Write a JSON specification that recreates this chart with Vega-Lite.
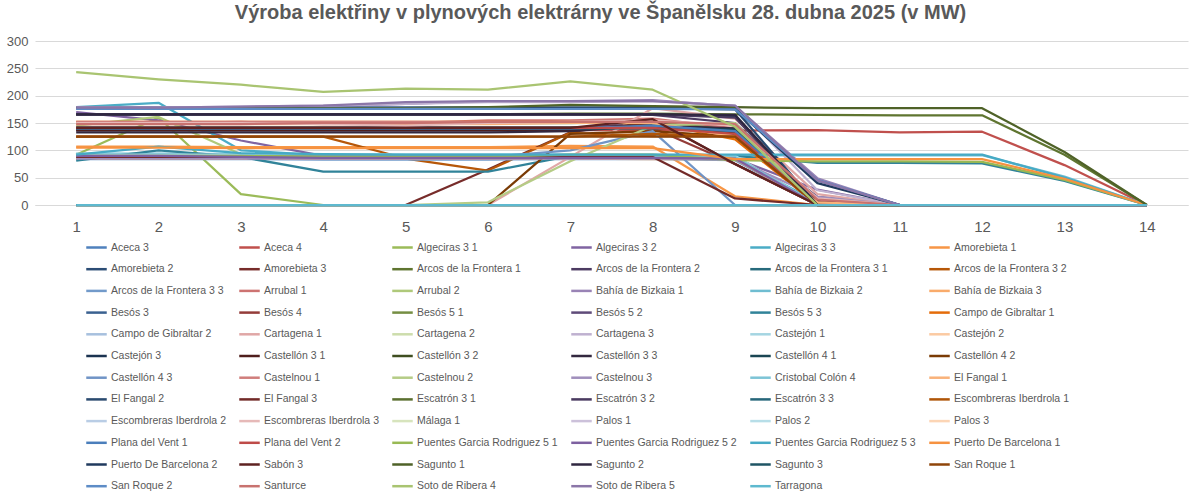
{
  "$schema": "https://vega.github.io/schema/vega-lite/v6.json",
  "description": "Výroba elektřiny v plynových elektrárnách ve Španělsku 28. dubna 2025",
  "autosize": {"type": "none"},
  "width": 1153,
  "height": 164,
  "padding": {"left": 35, "top": 41, "right": 12, "bottom": 290},
  "background": "white",
  "title": {
    "text": "Výroba elektřiny v plynových elektrárny ve Španělsku 28. dubna 2025 (v MW)",
    "font": "Liberation Sans",
    "fontSize": 20,
    "fontWeight": "bold",
    "color": "#595959",
    "anchor": "middle",
    "dx": -11,
    "offset": 12
  },
  "data": {
    "values": [
      {"s":"Aceca 3","x":1,"v":88},{"s":"Aceca 3","x":2,"v":88},{"s":"Aceca 3","x":3,"v":87},{"s":"Aceca 3","x":4,"v":86},{"s":"Aceca 3","x":5,"v":86},{"s":"Aceca 3","x":6,"v":86},{"s":"Aceca 3","x":7,"v":87},{"s":"Aceca 3","x":8,"v":87},{"s":"Aceca 3","x":9,"v":84},{"s":"Aceca 3","x":10,"v":0},{"s":"Aceca 3","x":11,"v":0},{"s":"Aceca 3","x":12,"v":0},{"s":"Aceca 3","x":13,"v":0},{"s":"Aceca 3","x":14,"v":0},
      {"s":"Aceca 4","x":1,"v":137},{"s":"Aceca 4","x":2,"v":137},{"s":"Aceca 4","x":3,"v":137},{"s":"Aceca 4","x":4,"v":137},{"s":"Aceca 4","x":5,"v":137},{"s":"Aceca 4","x":6,"v":137},{"s":"Aceca 4","x":7,"v":137},{"s":"Aceca 4","x":8,"v":137},{"s":"Aceca 4","x":9,"v":136},{"s":"Aceca 4","x":10,"v":137},{"s":"Aceca 4","x":11,"v":133},{"s":"Aceca 4","x":12,"v":134},{"s":"Aceca 4","x":13,"v":73},{"s":"Aceca 4","x":14,"v":0},
      {"s":"Algeciras 3 1","x":1,"v":92},{"s":"Algeciras 3 1","x":2,"v":160},{"s":"Algeciras 3 1","x":3,"v":20},{"s":"Algeciras 3 1","x":4,"v":0},{"s":"Algeciras 3 1","x":5,"v":0},{"s":"Algeciras 3 1","x":6,"v":0},{"s":"Algeciras 3 1","x":7,"v":0},{"s":"Algeciras 3 1","x":8,"v":0},{"s":"Algeciras 3 1","x":9,"v":0},{"s":"Algeciras 3 1","x":10,"v":0},{"s":"Algeciras 3 1","x":11,"v":0},{"s":"Algeciras 3 1","x":12,"v":0},{"s":"Algeciras 3 1","x":13,"v":0},{"s":"Algeciras 3 1","x":14,"v":0},
      {"s":"Algeciras 3 2","x":1,"v":170},{"s":"Algeciras 3 2","x":2,"v":155},{"s":"Algeciras 3 2","x":3,"v":118},{"s":"Algeciras 3 2","x":4,"v":90},{"s":"Algeciras 3 2","x":5,"v":88},{"s":"Algeciras 3 2","x":6,"v":88},{"s":"Algeciras 3 2","x":7,"v":88},{"s":"Algeciras 3 2","x":8,"v":88},{"s":"Algeciras 3 2","x":9,"v":85},{"s":"Algeciras 3 2","x":10,"v":28},{"s":"Algeciras 3 2","x":11,"v":0},{"s":"Algeciras 3 2","x":12,"v":0},{"s":"Algeciras 3 2","x":13,"v":0},{"s":"Algeciras 3 2","x":14,"v":0},
      {"s":"Algeciras 3 3","x":1,"v":179},{"s":"Algeciras 3 3","x":2,"v":187},{"s":"Algeciras 3 3","x":3,"v":100},{"s":"Algeciras 3 3","x":4,"v":91},{"s":"Algeciras 3 3","x":5,"v":90},{"s":"Algeciras 3 3","x":6,"v":90},{"s":"Algeciras 3 3","x":7,"v":90},{"s":"Algeciras 3 3","x":8,"v":90},{"s":"Algeciras 3 3","x":9,"v":85},{"s":"Algeciras 3 3","x":10,"v":5},{"s":"Algeciras 3 3","x":11,"v":0},{"s":"Algeciras 3 3","x":12,"v":0},{"s":"Algeciras 3 3","x":13,"v":0},{"s":"Algeciras 3 3","x":14,"v":0},
      {"s":"Amorebieta 1","x":1,"v":107},{"s":"Amorebieta 1","x":2,"v":107},{"s":"Amorebieta 1","x":3,"v":106},{"s":"Amorebieta 1","x":4,"v":106},{"s":"Amorebieta 1","x":5,"v":106},{"s":"Amorebieta 1","x":6,"v":106},{"s":"Amorebieta 1","x":7,"v":108},{"s":"Amorebieta 1","x":8,"v":107},{"s":"Amorebieta 1","x":9,"v":16},{"s":"Amorebieta 1","x":10,"v":0},{"s":"Amorebieta 1","x":11,"v":0},{"s":"Amorebieta 1","x":12,"v":0},{"s":"Amorebieta 1","x":13,"v":0},{"s":"Amorebieta 1","x":14,"v":0},
      {"s":"Amorebieta 2","x":1,"v":178},{"s":"Amorebieta 2","x":2,"v":178},{"s":"Amorebieta 2","x":3,"v":178},{"s":"Amorebieta 2","x":4,"v":178},{"s":"Amorebieta 2","x":5,"v":178},{"s":"Amorebieta 2","x":6,"v":178},{"s":"Amorebieta 2","x":7,"v":178},{"s":"Amorebieta 2","x":8,"v":178},{"s":"Amorebieta 2","x":9,"v":178},{"s":"Amorebieta 2","x":10,"v":46},{"s":"Amorebieta 2","x":11,"v":0},{"s":"Amorebieta 2","x":12,"v":0},{"s":"Amorebieta 2","x":13,"v":0},{"s":"Amorebieta 2","x":14,"v":0},
      {"s":"Amorebieta 3","x":1,"v":0},{"s":"Amorebieta 3","x":2,"v":0},{"s":"Amorebieta 3","x":3,"v":0},{"s":"Amorebieta 3","x":4,"v":0},{"s":"Amorebieta 3","x":5,"v":0},{"s":"Amorebieta 3","x":6,"v":65},{"s":"Amorebieta 3","x":7,"v":133},{"s":"Amorebieta 3","x":8,"v":157},{"s":"Amorebieta 3","x":9,"v":75},{"s":"Amorebieta 3","x":10,"v":0},{"s":"Amorebieta 3","x":11,"v":0},{"s":"Amorebieta 3","x":12,"v":0},{"s":"Amorebieta 3","x":13,"v":0},{"s":"Amorebieta 3","x":14,"v":0},
      {"s":"Arcos de la Frontera 1","x":1,"v":166},{"s":"Arcos de la Frontera 1","x":2,"v":166},{"s":"Arcos de la Frontera 1","x":3,"v":166},{"s":"Arcos de la Frontera 1","x":4,"v":166},{"s":"Arcos de la Frontera 1","x":5,"v":166},{"s":"Arcos de la Frontera 1","x":6,"v":166},{"s":"Arcos de la Frontera 1","x":7,"v":167},{"s":"Arcos de la Frontera 1","x":8,"v":167},{"s":"Arcos de la Frontera 1","x":9,"v":166},{"s":"Arcos de la Frontera 1","x":10,"v":165},{"s":"Arcos de la Frontera 1","x":11,"v":164},{"s":"Arcos de la Frontera 1","x":12,"v":164},{"s":"Arcos de la Frontera 1","x":13,"v":92},{"s":"Arcos de la Frontera 1","x":14,"v":0},
      {"s":"Arcos de la Frontera 2","x":1,"v":166},{"s":"Arcos de la Frontera 2","x":2,"v":166},{"s":"Arcos de la Frontera 2","x":3,"v":166},{"s":"Arcos de la Frontera 2","x":4,"v":166},{"s":"Arcos de la Frontera 2","x":5,"v":166},{"s":"Arcos de la Frontera 2","x":6,"v":166},{"s":"Arcos de la Frontera 2","x":7,"v":166},{"s":"Arcos de la Frontera 2","x":8,"v":165},{"s":"Arcos de la Frontera 2","x":9,"v":150},{"s":"Arcos de la Frontera 2","x":10,"v":8},{"s":"Arcos de la Frontera 2","x":11,"v":0},{"s":"Arcos de la Frontera 2","x":12,"v":0},{"s":"Arcos de la Frontera 2","x":13,"v":0},{"s":"Arcos de la Frontera 2","x":14,"v":0},
      {"s":"Arcos de la Frontera 3 1","x":1,"v":140},{"s":"Arcos de la Frontera 3 1","x":2,"v":140},{"s":"Arcos de la Frontera 3 1","x":3,"v":140},{"s":"Arcos de la Frontera 3 1","x":4,"v":140},{"s":"Arcos de la Frontera 3 1","x":5,"v":140},{"s":"Arcos de la Frontera 3 1","x":6,"v":140},{"s":"Arcos de la Frontera 3 1","x":7,"v":141},{"s":"Arcos de la Frontera 3 1","x":8,"v":148},{"s":"Arcos de la Frontera 3 1","x":9,"v":140},{"s":"Arcos de la Frontera 3 1","x":10,"v":0},{"s":"Arcos de la Frontera 3 1","x":11,"v":0},{"s":"Arcos de la Frontera 3 1","x":12,"v":0},{"s":"Arcos de la Frontera 3 1","x":13,"v":0},{"s":"Arcos de la Frontera 3 1","x":14,"v":0},
      {"s":"Arcos de la Frontera 3 2","x":1,"v":125},{"s":"Arcos de la Frontera 3 2","x":2,"v":125},{"s":"Arcos de la Frontera 3 2","x":3,"v":125},{"s":"Arcos de la Frontera 3 2","x":4,"v":125},{"s":"Arcos de la Frontera 3 2","x":5,"v":85},{"s":"Arcos de la Frontera 3 2","x":6,"v":63},{"s":"Arcos de la Frontera 3 2","x":7,"v":132},{"s":"Arcos de la Frontera 3 2","x":8,"v":126},{"s":"Arcos de la Frontera 3 2","x":9,"v":126},{"s":"Arcos de la Frontera 3 2","x":10,"v":0},{"s":"Arcos de la Frontera 3 2","x":11,"v":0},{"s":"Arcos de la Frontera 3 2","x":12,"v":0},{"s":"Arcos de la Frontera 3 2","x":13,"v":0},{"s":"Arcos de la Frontera 3 2","x":14,"v":0},
      {"s":"Arcos de la Frontera 3 3","x":1,"v":84},{"s":"Arcos de la Frontera 3 3","x":2,"v":84},{"s":"Arcos de la Frontera 3 3","x":3,"v":84},{"s":"Arcos de la Frontera 3 3","x":4,"v":83},{"s":"Arcos de la Frontera 3 3","x":5,"v":83},{"s":"Arcos de la Frontera 3 3","x":6,"v":83},{"s":"Arcos de la Frontera 3 3","x":7,"v":84},{"s":"Arcos de la Frontera 3 3","x":8,"v":84},{"s":"Arcos de la Frontera 3 3","x":9,"v":82},{"s":"Arcos de la Frontera 3 3","x":10,"v":0},{"s":"Arcos de la Frontera 3 3","x":11,"v":0},{"s":"Arcos de la Frontera 3 3","x":12,"v":0},{"s":"Arcos de la Frontera 3 3","x":13,"v":0},{"s":"Arcos de la Frontera 3 3","x":14,"v":0},
      {"s":"Arrubal 1","x":1,"v":148},{"s":"Arrubal 1","x":2,"v":150},{"s":"Arrubal 1","x":3,"v":152},{"s":"Arrubal 1","x":4,"v":148},{"s":"Arrubal 1","x":5,"v":150},{"s":"Arrubal 1","x":6,"v":155},{"s":"Arrubal 1","x":7,"v":155},{"s":"Arrubal 1","x":8,"v":158},{"s":"Arrubal 1","x":9,"v":140},{"s":"Arrubal 1","x":10,"v":10},{"s":"Arrubal 1","x":11,"v":0},{"s":"Arrubal 1","x":12,"v":0},{"s":"Arrubal 1","x":13,"v":0},{"s":"Arrubal 1","x":14,"v":0},
      {"s":"Arrubal 2","x":1,"v":145},{"s":"Arrubal 2","x":2,"v":161},{"s":"Arrubal 2","x":3,"v":93},{"s":"Arrubal 2","x":4,"v":88},{"s":"Arrubal 2","x":5,"v":87},{"s":"Arrubal 2","x":6,"v":87},{"s":"Arrubal 2","x":7,"v":88},{"s":"Arrubal 2","x":8,"v":88},{"s":"Arrubal 2","x":9,"v":86},{"s":"Arrubal 2","x":10,"v":0},{"s":"Arrubal 2","x":11,"v":0},{"s":"Arrubal 2","x":12,"v":0},{"s":"Arrubal 2","x":13,"v":0},{"s":"Arrubal 2","x":14,"v":0},
      {"s":"Bahía de Bizkaia 1","x":1,"v":179},{"s":"Bahía de Bizkaia 1","x":2,"v":179},{"s":"Bahía de Bizkaia 1","x":3,"v":179},{"s":"Bahía de Bizkaia 1","x":4,"v":180},{"s":"Bahía de Bizkaia 1","x":5,"v":185},{"s":"Bahía de Bizkaia 1","x":6,"v":190},{"s":"Bahía de Bizkaia 1","x":7,"v":190},{"s":"Bahía de Bizkaia 1","x":8,"v":192},{"s":"Bahía de Bizkaia 1","x":9,"v":181},{"s":"Bahía de Bizkaia 1","x":10,"v":49},{"s":"Bahía de Bizkaia 1","x":11,"v":0},{"s":"Bahía de Bizkaia 1","x":12,"v":0},{"s":"Bahía de Bizkaia 1","x":13,"v":0},{"s":"Bahía de Bizkaia 1","x":14,"v":0},
      {"s":"Bahía de Bizkaia 2","x":1,"v":94},{"s":"Bahía de Bizkaia 2","x":2,"v":94},{"s":"Bahía de Bizkaia 2","x":3,"v":93},{"s":"Bahía de Bizkaia 2","x":4,"v":92},{"s":"Bahía de Bizkaia 2","x":5,"v":92},{"s":"Bahía de Bizkaia 2","x":6,"v":92},{"s":"Bahía de Bizkaia 2","x":7,"v":92},{"s":"Bahía de Bizkaia 2","x":8,"v":91},{"s":"Bahía de Bizkaia 2","x":9,"v":91},{"s":"Bahía de Bizkaia 2","x":10,"v":91},{"s":"Bahía de Bizkaia 2","x":11,"v":91},{"s":"Bahía de Bizkaia 2","x":12,"v":91},{"s":"Bahía de Bizkaia 2","x":13,"v":52},{"s":"Bahía de Bizkaia 2","x":14,"v":0},
      {"s":"Bahía de Bizkaia 3","x":1,"v":85},{"s":"Bahía de Bizkaia 3","x":2,"v":85},{"s":"Bahía de Bizkaia 3","x":3,"v":85},{"s":"Bahía de Bizkaia 3","x":4,"v":85},{"s":"Bahía de Bizkaia 3","x":5,"v":85},{"s":"Bahía de Bizkaia 3","x":6,"v":85},{"s":"Bahía de Bizkaia 3","x":7,"v":85},{"s":"Bahía de Bizkaia 3","x":8,"v":84},{"s":"Bahía de Bizkaia 3","x":9,"v":84},{"s":"Bahía de Bizkaia 3","x":10,"v":0},{"s":"Bahía de Bizkaia 3","x":11,"v":0},{"s":"Bahía de Bizkaia 3","x":12,"v":0},{"s":"Bahía de Bizkaia 3","x":13,"v":0},{"s":"Bahía de Bizkaia 3","x":14,"v":0},
      {"s":"Besós 3","x":1,"v":178},{"s":"Besós 3","x":2,"v":178},{"s":"Besós 3","x":3,"v":178},{"s":"Besós 3","x":4,"v":178},{"s":"Besós 3","x":5,"v":178},{"s":"Besós 3","x":6,"v":178},{"s":"Besós 3","x":7,"v":178},{"s":"Besós 3","x":8,"v":178},{"s":"Besós 3","x":9,"v":176},{"s":"Besós 3","x":10,"v":45},{"s":"Besós 3","x":11,"v":0},{"s":"Besós 3","x":12,"v":0},{"s":"Besós 3","x":13,"v":0},{"s":"Besós 3","x":14,"v":0},
      {"s":"Besós 4","x":1,"v":141},{"s":"Besós 4","x":2,"v":141},{"s":"Besós 4","x":3,"v":141},{"s":"Besós 4","x":4,"v":141},{"s":"Besós 4","x":5,"v":141},{"s":"Besós 4","x":6,"v":141},{"s":"Besós 4","x":7,"v":141},{"s":"Besós 4","x":8,"v":141},{"s":"Besós 4","x":9,"v":75},{"s":"Besós 4","x":10,"v":0},{"s":"Besós 4","x":11,"v":0},{"s":"Besós 4","x":12,"v":0},{"s":"Besós 4","x":13,"v":0},{"s":"Besós 4","x":14,"v":0},
      {"s":"Besós 5 1","x":1,"v":150},{"s":"Besós 5 1","x":2,"v":150},{"s":"Besós 5 1","x":3,"v":150},{"s":"Besós 5 1","x":4,"v":150},{"s":"Besós 5 1","x":5,"v":150},{"s":"Besós 5 1","x":6,"v":150},{"s":"Besós 5 1","x":7,"v":150},{"s":"Besós 5 1","x":8,"v":152},{"s":"Besós 5 1","x":9,"v":137},{"s":"Besós 5 1","x":10,"v":3},{"s":"Besós 5 1","x":11,"v":0},{"s":"Besós 5 1","x":12,"v":0},{"s":"Besós 5 1","x":13,"v":0},{"s":"Besós 5 1","x":14,"v":0},
      {"s":"Besós 5 2","x":1,"v":137},{"s":"Besós 5 2","x":2,"v":137},{"s":"Besós 5 2","x":3,"v":137},{"s":"Besós 5 2","x":4,"v":137},{"s":"Besós 5 2","x":5,"v":137},{"s":"Besós 5 2","x":6,"v":137},{"s":"Besós 5 2","x":7,"v":140},{"s":"Besós 5 2","x":8,"v":150},{"s":"Besós 5 2","x":9,"v":132},{"s":"Besós 5 2","x":10,"v":15},{"s":"Besós 5 2","x":11,"v":0},{"s":"Besós 5 2","x":12,"v":0},{"s":"Besós 5 2","x":13,"v":0},{"s":"Besós 5 2","x":14,"v":0},
      {"s":"Besós 5 3","x":1,"v":81},{"s":"Besós 5 3","x":2,"v":100},{"s":"Besós 5 3","x":3,"v":88},{"s":"Besós 5 3","x":4,"v":61},{"s":"Besós 5 3","x":5,"v":61},{"s":"Besós 5 3","x":6,"v":61},{"s":"Besós 5 3","x":7,"v":90},{"s":"Besós 5 3","x":8,"v":90},{"s":"Besós 5 3","x":9,"v":90},{"s":"Besós 5 3","x":10,"v":77},{"s":"Besós 5 3","x":11,"v":77},{"s":"Besós 5 3","x":12,"v":76},{"s":"Besós 5 3","x":13,"v":44},{"s":"Besós 5 3","x":14,"v":0},
      {"s":"Campo de Gibraltar 1","x":1,"v":152},{"s":"Campo de Gibraltar 1","x":2,"v":152},{"s":"Campo de Gibraltar 1","x":3,"v":152},{"s":"Campo de Gibraltar 1","x":4,"v":152},{"s":"Campo de Gibraltar 1","x":5,"v":152},{"s":"Campo de Gibraltar 1","x":6,"v":152},{"s":"Campo de Gibraltar 1","x":7,"v":152},{"s":"Campo de Gibraltar 1","x":8,"v":150},{"s":"Campo de Gibraltar 1","x":9,"v":120},{"s":"Campo de Gibraltar 1","x":10,"v":0},{"s":"Campo de Gibraltar 1","x":11,"v":0},{"s":"Campo de Gibraltar 1","x":12,"v":0},{"s":"Campo de Gibraltar 1","x":13,"v":0},{"s":"Campo de Gibraltar 1","x":14,"v":0},
      {"s":"Campo de Gibraltar 2","x":1,"v":90},{"s":"Campo de Gibraltar 2","x":2,"v":90},{"s":"Campo de Gibraltar 2","x":3,"v":89},{"s":"Campo de Gibraltar 2","x":4,"v":89},{"s":"Campo de Gibraltar 2","x":5,"v":89},{"s":"Campo de Gibraltar 2","x":6,"v":89},{"s":"Campo de Gibraltar 2","x":7,"v":89},{"s":"Campo de Gibraltar 2","x":8,"v":89},{"s":"Campo de Gibraltar 2","x":9,"v":88},{"s":"Campo de Gibraltar 2","x":10,"v":0},{"s":"Campo de Gibraltar 2","x":11,"v":0},{"s":"Campo de Gibraltar 2","x":12,"v":0},{"s":"Campo de Gibraltar 2","x":13,"v":0},{"s":"Campo de Gibraltar 2","x":14,"v":0},
      {"s":"Cartagena 1","x":1,"v":0},{"s":"Cartagena 1","x":2,"v":0},{"s":"Cartagena 1","x":3,"v":0},{"s":"Cartagena 1","x":4,"v":0},{"s":"Cartagena 1","x":5,"v":0},{"s":"Cartagena 1","x":6,"v":0},{"s":"Cartagena 1","x":7,"v":88},{"s":"Cartagena 1","x":8,"v":177},{"s":"Cartagena 1","x":9,"v":158},{"s":"Cartagena 1","x":10,"v":20},{"s":"Cartagena 1","x":11,"v":0},{"s":"Cartagena 1","x":12,"v":0},{"s":"Cartagena 1","x":13,"v":0},{"s":"Cartagena 1","x":14,"v":0},
      {"s":"Cartagena 2","x":1,"v":0},{"s":"Cartagena 2","x":2,"v":0},{"s":"Cartagena 2","x":3,"v":0},{"s":"Cartagena 2","x":4,"v":0},{"s":"Cartagena 2","x":5,"v":0},{"s":"Cartagena 2","x":6,"v":0},{"s":"Cartagena 2","x":7,"v":0},{"s":"Cartagena 2","x":8,"v":0},{"s":"Cartagena 2","x":9,"v":0},{"s":"Cartagena 2","x":10,"v":0},{"s":"Cartagena 2","x":11,"v":0},{"s":"Cartagena 2","x":12,"v":0},{"s":"Cartagena 2","x":13,"v":0},{"s":"Cartagena 2","x":14,"v":0},
      {"s":"Cartagena 3","x":1,"v":178},{"s":"Cartagena 3","x":2,"v":178},{"s":"Cartagena 3","x":3,"v":180},{"s":"Cartagena 3","x":4,"v":182},{"s":"Cartagena 3","x":5,"v":185},{"s":"Cartagena 3","x":6,"v":188},{"s":"Cartagena 3","x":7,"v":188},{"s":"Cartagena 3","x":8,"v":190},{"s":"Cartagena 3","x":9,"v":182},{"s":"Cartagena 3","x":10,"v":27},{"s":"Cartagena 3","x":11,"v":0},{"s":"Cartagena 3","x":12,"v":0},{"s":"Cartagena 3","x":13,"v":0},{"s":"Cartagena 3","x":14,"v":0},
      {"s":"Castejón 1","x":1,"v":92},{"s":"Castejón 1","x":2,"v":92},{"s":"Castejón 1","x":3,"v":92},{"s":"Castejón 1","x":4,"v":92},{"s":"Castejón 1","x":5,"v":92},{"s":"Castejón 1","x":6,"v":92},{"s":"Castejón 1","x":7,"v":92},{"s":"Castejón 1","x":8,"v":92},{"s":"Castejón 1","x":9,"v":90},{"s":"Castejón 1","x":10,"v":0},{"s":"Castejón 1","x":11,"v":0},{"s":"Castejón 1","x":12,"v":0},{"s":"Castejón 1","x":13,"v":0},{"s":"Castejón 1","x":14,"v":0},
      {"s":"Castejón 2","x":1,"v":0},{"s":"Castejón 2","x":2,"v":0},{"s":"Castejón 2","x":3,"v":0},{"s":"Castejón 2","x":4,"v":0},{"s":"Castejón 2","x":5,"v":0},{"s":"Castejón 2","x":6,"v":0},{"s":"Castejón 2","x":7,"v":0},{"s":"Castejón 2","x":8,"v":0},{"s":"Castejón 2","x":9,"v":0},{"s":"Castejón 2","x":10,"v":0},{"s":"Castejón 2","x":11,"v":0},{"s":"Castejón 2","x":12,"v":0},{"s":"Castejón 2","x":13,"v":0},{"s":"Castejón 2","x":14,"v":0},
      {"s":"Castejón 3","x":1,"v":166},{"s":"Castejón 3","x":2,"v":166},{"s":"Castejón 3","x":3,"v":166},{"s":"Castejón 3","x":4,"v":166},{"s":"Castejón 3","x":5,"v":166},{"s":"Castejón 3","x":6,"v":166},{"s":"Castejón 3","x":7,"v":166},{"s":"Castejón 3","x":8,"v":166},{"s":"Castejón 3","x":9,"v":162},{"s":"Castejón 3","x":10,"v":0},{"s":"Castejón 3","x":11,"v":0},{"s":"Castejón 3","x":12,"v":0},{"s":"Castejón 3","x":13,"v":0},{"s":"Castejón 3","x":14,"v":0},
      {"s":"Castellón 3 1","x":1,"v":137},{"s":"Castellón 3 1","x":2,"v":137},{"s":"Castellón 3 1","x":3,"v":137},{"s":"Castellón 3 1","x":4,"v":137},{"s":"Castellón 3 1","x":5,"v":137},{"s":"Castellón 3 1","x":6,"v":137},{"s":"Castellón 3 1","x":7,"v":137},{"s":"Castellón 3 1","x":8,"v":150},{"s":"Castellón 3 1","x":9,"v":130},{"s":"Castellón 3 1","x":10,"v":8},{"s":"Castellón 3 1","x":11,"v":0},{"s":"Castellón 3 1","x":12,"v":0},{"s":"Castellón 3 1","x":13,"v":0},{"s":"Castellón 3 1","x":14,"v":0},
      {"s":"Castellón 3 2","x":1,"v":0},{"s":"Castellón 3 2","x":2,"v":0},{"s":"Castellón 3 2","x":3,"v":0},{"s":"Castellón 3 2","x":4,"v":0},{"s":"Castellón 3 2","x":5,"v":0},{"s":"Castellón 3 2","x":6,"v":0},{"s":"Castellón 3 2","x":7,"v":0},{"s":"Castellón 3 2","x":8,"v":0},{"s":"Castellón 3 2","x":9,"v":0},{"s":"Castellón 3 2","x":10,"v":0},{"s":"Castellón 3 2","x":11,"v":0},{"s":"Castellón 3 2","x":12,"v":0},{"s":"Castellón 3 2","x":13,"v":0},{"s":"Castellón 3 2","x":14,"v":0},
      {"s":"Castellón 3 3","x":1,"v":133},{"s":"Castellón 3 3","x":2,"v":133},{"s":"Castellón 3 3","x":3,"v":133},{"s":"Castellón 3 3","x":4,"v":133},{"s":"Castellón 3 3","x":5,"v":133},{"s":"Castellón 3 3","x":6,"v":133},{"s":"Castellón 3 3","x":7,"v":135},{"s":"Castellón 3 3","x":8,"v":145},{"s":"Castellón 3 3","x":9,"v":140},{"s":"Castellón 3 3","x":10,"v":0},{"s":"Castellón 3 3","x":11,"v":0},{"s":"Castellón 3 3","x":12,"v":0},{"s":"Castellón 3 3","x":13,"v":0},{"s":"Castellón 3 3","x":14,"v":0},
      {"s":"Castellón 4 1","x":1,"v":142},{"s":"Castellón 4 1","x":2,"v":142},{"s":"Castellón 4 1","x":3,"v":142},{"s":"Castellón 4 1","x":4,"v":142},{"s":"Castellón 4 1","x":5,"v":142},{"s":"Castellón 4 1","x":6,"v":142},{"s":"Castellón 4 1","x":7,"v":142},{"s":"Castellón 4 1","x":8,"v":142},{"s":"Castellón 4 1","x":9,"v":138},{"s":"Castellón 4 1","x":10,"v":0},{"s":"Castellón 4 1","x":11,"v":0},{"s":"Castellón 4 1","x":12,"v":0},{"s":"Castellón 4 1","x":13,"v":0},{"s":"Castellón 4 1","x":14,"v":0},
      {"s":"Castellón 4 2","x":1,"v":0},{"s":"Castellón 4 2","x":2,"v":0},{"s":"Castellón 4 2","x":3,"v":0},{"s":"Castellón 4 2","x":4,"v":0},{"s":"Castellón 4 2","x":5,"v":0},{"s":"Castellón 4 2","x":6,"v":0},{"s":"Castellón 4 2","x":7,"v":130},{"s":"Castellón 4 2","x":8,"v":135},{"s":"Castellón 4 2","x":9,"v":125},{"s":"Castellón 4 2","x":10,"v":0},{"s":"Castellón 4 2","x":11,"v":0},{"s":"Castellón 4 2","x":12,"v":0},{"s":"Castellón 4 2","x":13,"v":0},{"s":"Castellón 4 2","x":14,"v":0},
      {"s":"Castellón 4 3","x":1,"v":88},{"s":"Castellón 4 3","x":2,"v":88},{"s":"Castellón 4 3","x":3,"v":88},{"s":"Castellón 4 3","x":4,"v":88},{"s":"Castellón 4 3","x":5,"v":88},{"s":"Castellón 4 3","x":6,"v":88},{"s":"Castellón 4 3","x":7,"v":100},{"s":"Castellón 4 3","x":8,"v":135},{"s":"Castellón 4 3","x":9,"v":0},{"s":"Castellón 4 3","x":10,"v":0},{"s":"Castellón 4 3","x":11,"v":0},{"s":"Castellón 4 3","x":12,"v":0},{"s":"Castellón 4 3","x":13,"v":0},{"s":"Castellón 4 3","x":14,"v":0},
      {"s":"Castelnou 1","x":1,"v":152},{"s":"Castelnou 1","x":2,"v":152},{"s":"Castelnou 1","x":3,"v":152},{"s":"Castelnou 1","x":4,"v":152},{"s":"Castelnou 1","x":5,"v":152},{"s":"Castelnou 1","x":6,"v":152},{"s":"Castelnou 1","x":7,"v":152},{"s":"Castelnou 1","x":8,"v":150},{"s":"Castelnou 1","x":9,"v":125},{"s":"Castelnou 1","x":10,"v":5},{"s":"Castelnou 1","x":11,"v":0},{"s":"Castelnou 1","x":12,"v":0},{"s":"Castelnou 1","x":13,"v":0},{"s":"Castelnou 1","x":14,"v":0},
      {"s":"Castelnou 2","x":1,"v":0},{"s":"Castelnou 2","x":2,"v":0},{"s":"Castelnou 2","x":3,"v":0},{"s":"Castelnou 2","x":4,"v":0},{"s":"Castelnou 2","x":5,"v":0},{"s":"Castelnou 2","x":6,"v":5},{"s":"Castelnou 2","x":7,"v":80},{"s":"Castelnou 2","x":8,"v":145},{"s":"Castelnou 2","x":9,"v":150},{"s":"Castelnou 2","x":10,"v":0},{"s":"Castelnou 2","x":11,"v":0},{"s":"Castelnou 2","x":12,"v":0},{"s":"Castelnou 2","x":13,"v":0},{"s":"Castelnou 2","x":14,"v":0},
      {"s":"Castelnou 3","x":1,"v":85},{"s":"Castelnou 3","x":2,"v":85},{"s":"Castelnou 3","x":3,"v":85},{"s":"Castelnou 3","x":4,"v":85},{"s":"Castelnou 3","x":5,"v":85},{"s":"Castelnou 3","x":6,"v":85},{"s":"Castelnou 3","x":7,"v":85},{"s":"Castelnou 3","x":8,"v":85},{"s":"Castelnou 3","x":9,"v":84},{"s":"Castelnou 3","x":10,"v":15},{"s":"Castelnou 3","x":11,"v":0},{"s":"Castelnou 3","x":12,"v":0},{"s":"Castelnou 3","x":13,"v":0},{"s":"Castelnou 3","x":14,"v":0},
      {"s":"Cristobal Colón 4","x":1,"v":90},{"s":"Cristobal Colón 4","x":2,"v":90},{"s":"Cristobal Colón 4","x":3,"v":90},{"s":"Cristobal Colón 4","x":4,"v":90},{"s":"Cristobal Colón 4","x":5,"v":90},{"s":"Cristobal Colón 4","x":6,"v":90},{"s":"Cristobal Colón 4","x":7,"v":90},{"s":"Cristobal Colón 4","x":8,"v":90},{"s":"Cristobal Colón 4","x":9,"v":88},{"s":"Cristobal Colón 4","x":10,"v":0},{"s":"Cristobal Colón 4","x":11,"v":0},{"s":"Cristobal Colón 4","x":12,"v":0},{"s":"Cristobal Colón 4","x":13,"v":0},{"s":"Cristobal Colón 4","x":14,"v":0},
      {"s":"El Fangal 1","x":1,"v":148},{"s":"El Fangal 1","x":2,"v":148},{"s":"El Fangal 1","x":3,"v":148},{"s":"El Fangal 1","x":4,"v":148},{"s":"El Fangal 1","x":5,"v":148},{"s":"El Fangal 1","x":6,"v":148},{"s":"El Fangal 1","x":7,"v":150},{"s":"El Fangal 1","x":8,"v":150},{"s":"El Fangal 1","x":9,"v":125},{"s":"El Fangal 1","x":10,"v":5},{"s":"El Fangal 1","x":11,"v":0},{"s":"El Fangal 1","x":12,"v":0},{"s":"El Fangal 1","x":13,"v":0},{"s":"El Fangal 1","x":14,"v":0},
      {"s":"El Fangal 2","x":1,"v":177},{"s":"El Fangal 2","x":2,"v":177},{"s":"El Fangal 2","x":3,"v":177},{"s":"El Fangal 2","x":4,"v":177},{"s":"El Fangal 2","x":5,"v":177},{"s":"El Fangal 2","x":6,"v":177},{"s":"El Fangal 2","x":7,"v":177},{"s":"El Fangal 2","x":8,"v":177},{"s":"El Fangal 2","x":9,"v":175},{"s":"El Fangal 2","x":10,"v":0},{"s":"El Fangal 2","x":11,"v":0},{"s":"El Fangal 2","x":12,"v":0},{"s":"El Fangal 2","x":13,"v":0},{"s":"El Fangal 2","x":14,"v":0},
      {"s":"El Fangal 3","x":1,"v":88},{"s":"El Fangal 3","x":2,"v":88},{"s":"El Fangal 3","x":3,"v":88},{"s":"El Fangal 3","x":4,"v":88},{"s":"El Fangal 3","x":5,"v":88},{"s":"El Fangal 3","x":6,"v":88},{"s":"El Fangal 3","x":7,"v":88},{"s":"El Fangal 3","x":8,"v":88},{"s":"El Fangal 3","x":9,"v":12},{"s":"El Fangal 3","x":10,"v":0},{"s":"El Fangal 3","x":11,"v":0},{"s":"El Fangal 3","x":12,"v":0},{"s":"El Fangal 3","x":13,"v":0},{"s":"El Fangal 3","x":14,"v":0},
      {"s":"Escatrón 3 1","x":1,"v":0},{"s":"Escatrón 3 1","x":2,"v":0},{"s":"Escatrón 3 1","x":3,"v":0},{"s":"Escatrón 3 1","x":4,"v":0},{"s":"Escatrón 3 1","x":5,"v":0},{"s":"Escatrón 3 1","x":6,"v":0},{"s":"Escatrón 3 1","x":7,"v":0},{"s":"Escatrón 3 1","x":8,"v":0},{"s":"Escatrón 3 1","x":9,"v":0},{"s":"Escatrón 3 1","x":10,"v":0},{"s":"Escatrón 3 1","x":11,"v":0},{"s":"Escatrón 3 1","x":12,"v":0},{"s":"Escatrón 3 1","x":13,"v":0},{"s":"Escatrón 3 1","x":14,"v":0},
      {"s":"Escatrón 3 2","x":1,"v":166},{"s":"Escatrón 3 2","x":2,"v":166},{"s":"Escatrón 3 2","x":3,"v":166},{"s":"Escatrón 3 2","x":4,"v":166},{"s":"Escatrón 3 2","x":5,"v":166},{"s":"Escatrón 3 2","x":6,"v":166},{"s":"Escatrón 3 2","x":7,"v":166},{"s":"Escatrón 3 2","x":8,"v":166},{"s":"Escatrón 3 2","x":9,"v":160},{"s":"Escatrón 3 2","x":10,"v":0},{"s":"Escatrón 3 2","x":11,"v":0},{"s":"Escatrón 3 2","x":12,"v":0},{"s":"Escatrón 3 2","x":13,"v":0},{"s":"Escatrón 3 2","x":14,"v":0},
      {"s":"Escatrón 3 3","x":1,"v":140},{"s":"Escatrón 3 3","x":2,"v":140},{"s":"Escatrón 3 3","x":3,"v":140},{"s":"Escatrón 3 3","x":4,"v":140},{"s":"Escatrón 3 3","x":5,"v":140},{"s":"Escatrón 3 3","x":6,"v":140},{"s":"Escatrón 3 3","x":7,"v":140},{"s":"Escatrón 3 3","x":8,"v":140},{"s":"Escatrón 3 3","x":9,"v":135},{"s":"Escatrón 3 3","x":10,"v":0},{"s":"Escatrón 3 3","x":11,"v":0},{"s":"Escatrón 3 3","x":12,"v":0},{"s":"Escatrón 3 3","x":13,"v":0},{"s":"Escatrón 3 3","x":14,"v":0},
      {"s":"Escombreras Iberdrola 1","x":1,"v":125},{"s":"Escombreras Iberdrola 1","x":2,"v":125},{"s":"Escombreras Iberdrola 1","x":3,"v":125},{"s":"Escombreras Iberdrola 1","x":4,"v":125},{"s":"Escombreras Iberdrola 1","x":5,"v":125},{"s":"Escombreras Iberdrola 1","x":6,"v":125},{"s":"Escombreras Iberdrola 1","x":7,"v":125},{"s":"Escombreras Iberdrola 1","x":8,"v":130},{"s":"Escombreras Iberdrola 1","x":9,"v":125},{"s":"Escombreras Iberdrola 1","x":10,"v":0},{"s":"Escombreras Iberdrola 1","x":11,"v":0},{"s":"Escombreras Iberdrola 1","x":12,"v":0},{"s":"Escombreras Iberdrola 1","x":13,"v":0},{"s":"Escombreras Iberdrola 1","x":14,"v":0},
      {"s":"Escombreras Iberdrola 2","x":1,"v":0},{"s":"Escombreras Iberdrola 2","x":2,"v":0},{"s":"Escombreras Iberdrola 2","x":3,"v":0},{"s":"Escombreras Iberdrola 2","x":4,"v":0},{"s":"Escombreras Iberdrola 2","x":5,"v":0},{"s":"Escombreras Iberdrola 2","x":6,"v":0},{"s":"Escombreras Iberdrola 2","x":7,"v":0},{"s":"Escombreras Iberdrola 2","x":8,"v":0},{"s":"Escombreras Iberdrola 2","x":9,"v":0},{"s":"Escombreras Iberdrola 2","x":10,"v":0},{"s":"Escombreras Iberdrola 2","x":11,"v":0},{"s":"Escombreras Iberdrola 2","x":12,"v":0},{"s":"Escombreras Iberdrola 2","x":13,"v":0},{"s":"Escombreras Iberdrola 2","x":14,"v":0},
      {"s":"Escombreras Iberdrola 3","x":1,"v":150},{"s":"Escombreras Iberdrola 3","x":2,"v":150},{"s":"Escombreras Iberdrola 3","x":3,"v":150},{"s":"Escombreras Iberdrola 3","x":4,"v":148},{"s":"Escombreras Iberdrola 3","x":5,"v":145},{"s":"Escombreras Iberdrola 3","x":6,"v":150},{"s":"Escombreras Iberdrola 3","x":7,"v":152},{"s":"Escombreras Iberdrola 3","x":8,"v":155},{"s":"Escombreras Iberdrola 3","x":9,"v":145},{"s":"Escombreras Iberdrola 3","x":10,"v":12},{"s":"Escombreras Iberdrola 3","x":11,"v":0},{"s":"Escombreras Iberdrola 3","x":12,"v":0},{"s":"Escombreras Iberdrola 3","x":13,"v":0},{"s":"Escombreras Iberdrola 3","x":14,"v":0},
      {"s":"Málaga 1","x":1,"v":0},{"s":"Málaga 1","x":2,"v":0},{"s":"Málaga 1","x":3,"v":0},{"s":"Málaga 1","x":4,"v":0},{"s":"Málaga 1","x":5,"v":0},{"s":"Málaga 1","x":6,"v":0},{"s":"Málaga 1","x":7,"v":0},{"s":"Málaga 1","x":8,"v":0},{"s":"Málaga 1","x":9,"v":0},{"s":"Málaga 1","x":10,"v":0},{"s":"Málaga 1","x":11,"v":0},{"s":"Málaga 1","x":12,"v":0},{"s":"Málaga 1","x":13,"v":0},{"s":"Málaga 1","x":14,"v":0},
      {"s":"Palos 1","x":1,"v":0},{"s":"Palos 1","x":2,"v":0},{"s":"Palos 1","x":3,"v":0},{"s":"Palos 1","x":4,"v":0},{"s":"Palos 1","x":5,"v":0},{"s":"Palos 1","x":6,"v":0},{"s":"Palos 1","x":7,"v":0},{"s":"Palos 1","x":8,"v":0},{"s":"Palos 1","x":9,"v":0},{"s":"Palos 1","x":10,"v":0},{"s":"Palos 1","x":11,"v":0},{"s":"Palos 1","x":12,"v":0},{"s":"Palos 1","x":13,"v":0},{"s":"Palos 1","x":14,"v":0},
      {"s":"Palos 2","x":1,"v":0},{"s":"Palos 2","x":2,"v":0},{"s":"Palos 2","x":3,"v":0},{"s":"Palos 2","x":4,"v":0},{"s":"Palos 2","x":5,"v":0},{"s":"Palos 2","x":6,"v":0},{"s":"Palos 2","x":7,"v":0},{"s":"Palos 2","x":8,"v":0},{"s":"Palos 2","x":9,"v":0},{"s":"Palos 2","x":10,"v":0},{"s":"Palos 2","x":11,"v":0},{"s":"Palos 2","x":12,"v":0},{"s":"Palos 2","x":13,"v":0},{"s":"Palos 2","x":14,"v":0},
      {"s":"Palos 3","x":1,"v":0},{"s":"Palos 3","x":2,"v":0},{"s":"Palos 3","x":3,"v":0},{"s":"Palos 3","x":4,"v":0},{"s":"Palos 3","x":5,"v":0},{"s":"Palos 3","x":6,"v":0},{"s":"Palos 3","x":7,"v":0},{"s":"Palos 3","x":8,"v":0},{"s":"Palos 3","x":9,"v":0},{"s":"Palos 3","x":10,"v":0},{"s":"Palos 3","x":11,"v":0},{"s":"Palos 3","x":12,"v":0},{"s":"Palos 3","x":13,"v":0},{"s":"Palos 3","x":14,"v":0},
      {"s":"Plana del Vent 1","x":1,"v":140},{"s":"Plana del Vent 1","x":2,"v":140},{"s":"Plana del Vent 1","x":3,"v":140},{"s":"Plana del Vent 1","x":4,"v":140},{"s":"Plana del Vent 1","x":5,"v":140},{"s":"Plana del Vent 1","x":6,"v":140},{"s":"Plana del Vent 1","x":7,"v":140},{"s":"Plana del Vent 1","x":8,"v":145},{"s":"Plana del Vent 1","x":9,"v":135},{"s":"Plana del Vent 1","x":10,"v":0},{"s":"Plana del Vent 1","x":11,"v":0},{"s":"Plana del Vent 1","x":12,"v":0},{"s":"Plana del Vent 1","x":13,"v":0},{"s":"Plana del Vent 1","x":14,"v":0},
      {"s":"Plana del Vent 2","x":1,"v":141},{"s":"Plana del Vent 2","x":2,"v":141},{"s":"Plana del Vent 2","x":3,"v":141},{"s":"Plana del Vent 2","x":4,"v":141},{"s":"Plana del Vent 2","x":5,"v":141},{"s":"Plana del Vent 2","x":6,"v":141},{"s":"Plana del Vent 2","x":7,"v":141},{"s":"Plana del Vent 2","x":8,"v":141},{"s":"Plana del Vent 2","x":9,"v":130},{"s":"Plana del Vent 2","x":10,"v":0},{"s":"Plana del Vent 2","x":11,"v":0},{"s":"Plana del Vent 2","x":12,"v":0},{"s":"Plana del Vent 2","x":13,"v":0},{"s":"Plana del Vent 2","x":14,"v":0},
      {"s":"Puentes Garcia Rodriguez 5 1","x":1,"v":90},{"s":"Puentes Garcia Rodriguez 5 1","x":2,"v":90},{"s":"Puentes Garcia Rodriguez 5 1","x":3,"v":90},{"s":"Puentes Garcia Rodriguez 5 1","x":4,"v":88},{"s":"Puentes Garcia Rodriguez 5 1","x":5,"v":88},{"s":"Puentes Garcia Rodriguez 5 1","x":6,"v":88},{"s":"Puentes Garcia Rodriguez 5 1","x":7,"v":92},{"s":"Puentes Garcia Rodriguez 5 1","x":8,"v":92},{"s":"Puentes Garcia Rodriguez 5 1","x":9,"v":82},{"s":"Puentes Garcia Rodriguez 5 1","x":10,"v":80},{"s":"Puentes Garcia Rodriguez 5 1","x":11,"v":80},{"s":"Puentes Garcia Rodriguez 5 1","x":12,"v":79},{"s":"Puentes Garcia Rodriguez 5 1","x":13,"v":46},{"s":"Puentes Garcia Rodriguez 5 1","x":14,"v":0},
      {"s":"Puentes Garcia Rodriguez 5 2","x":1,"v":90},{"s":"Puentes Garcia Rodriguez 5 2","x":2,"v":90},{"s":"Puentes Garcia Rodriguez 5 2","x":3,"v":88},{"s":"Puentes Garcia Rodriguez 5 2","x":4,"v":86},{"s":"Puentes Garcia Rodriguez 5 2","x":5,"v":86},{"s":"Puentes Garcia Rodriguez 5 2","x":6,"v":86},{"s":"Puentes Garcia Rodriguez 5 2","x":7,"v":86},{"s":"Puentes Garcia Rodriguez 5 2","x":8,"v":86},{"s":"Puentes Garcia Rodriguez 5 2","x":9,"v":85},{"s":"Puentes Garcia Rodriguez 5 2","x":10,"v":0},{"s":"Puentes Garcia Rodriguez 5 2","x":11,"v":0},{"s":"Puentes Garcia Rodriguez 5 2","x":12,"v":0},{"s":"Puentes Garcia Rodriguez 5 2","x":13,"v":0},{"s":"Puentes Garcia Rodriguez 5 2","x":14,"v":0},
      {"s":"Puentes Garcia Rodriguez 5 3","x":1,"v":92},{"s":"Puentes Garcia Rodriguez 5 3","x":2,"v":107},{"s":"Puentes Garcia Rodriguez 5 3","x":3,"v":95},{"s":"Puentes Garcia Rodriguez 5 3","x":4,"v":93},{"s":"Puentes Garcia Rodriguez 5 3","x":5,"v":92},{"s":"Puentes Garcia Rodriguez 5 3","x":6,"v":92},{"s":"Puentes Garcia Rodriguez 5 3","x":7,"v":92},{"s":"Puentes Garcia Rodriguez 5 3","x":8,"v":92},{"s":"Puentes Garcia Rodriguez 5 3","x":9,"v":92},{"s":"Puentes Garcia Rodriguez 5 3","x":10,"v":92},{"s":"Puentes Garcia Rodriguez 5 3","x":11,"v":92},{"s":"Puentes Garcia Rodriguez 5 3","x":12,"v":92},{"s":"Puentes Garcia Rodriguez 5 3","x":13,"v":50},{"s":"Puentes Garcia Rodriguez 5 3","x":14,"v":0},
      {"s":"Puerto De Barcelona 1","x":1,"v":105},{"s":"Puerto De Barcelona 1","x":2,"v":105},{"s":"Puerto De Barcelona 1","x":3,"v":104},{"s":"Puerto De Barcelona 1","x":4,"v":104},{"s":"Puerto De Barcelona 1","x":5,"v":104},{"s":"Puerto De Barcelona 1","x":6,"v":104},{"s":"Puerto De Barcelona 1","x":7,"v":104},{"s":"Puerto De Barcelona 1","x":8,"v":104},{"s":"Puerto De Barcelona 1","x":9,"v":84},{"s":"Puerto De Barcelona 1","x":10,"v":84},{"s":"Puerto De Barcelona 1","x":11,"v":84},{"s":"Puerto De Barcelona 1","x":12,"v":84},{"s":"Puerto De Barcelona 1","x":13,"v":48},{"s":"Puerto De Barcelona 1","x":14,"v":0},
      {"s":"Puerto De Barcelona 2","x":1,"v":177},{"s":"Puerto De Barcelona 2","x":2,"v":177},{"s":"Puerto De Barcelona 2","x":3,"v":177},{"s":"Puerto De Barcelona 2","x":4,"v":177},{"s":"Puerto De Barcelona 2","x":5,"v":177},{"s":"Puerto De Barcelona 2","x":6,"v":177},{"s":"Puerto De Barcelona 2","x":7,"v":177},{"s":"Puerto De Barcelona 2","x":8,"v":177},{"s":"Puerto De Barcelona 2","x":9,"v":176},{"s":"Puerto De Barcelona 2","x":10,"v":40},{"s":"Puerto De Barcelona 2","x":11,"v":0},{"s":"Puerto De Barcelona 2","x":12,"v":0},{"s":"Puerto De Barcelona 2","x":13,"v":0},{"s":"Puerto De Barcelona 2","x":14,"v":0},
      {"s":"Sabón 3","x":1,"v":141},{"s":"Sabón 3","x":2,"v":141},{"s":"Sabón 3","x":3,"v":141},{"s":"Sabón 3","x":4,"v":141},{"s":"Sabón 3","x":5,"v":141},{"s":"Sabón 3","x":6,"v":141},{"s":"Sabón 3","x":7,"v":141},{"s":"Sabón 3","x":8,"v":157},{"s":"Sabón 3","x":9,"v":75},{"s":"Sabón 3","x":10,"v":0},{"s":"Sabón 3","x":11,"v":0},{"s":"Sabón 3","x":12,"v":0},{"s":"Sabón 3","x":13,"v":0},{"s":"Sabón 3","x":14,"v":0},
      {"s":"Sagunto 1","x":1,"v":177},{"s":"Sagunto 1","x":2,"v":177},{"s":"Sagunto 1","x":3,"v":177},{"s":"Sagunto 1","x":4,"v":177},{"s":"Sagunto 1","x":5,"v":177},{"s":"Sagunto 1","x":6,"v":179},{"s":"Sagunto 1","x":7,"v":183},{"s":"Sagunto 1","x":8,"v":181},{"s":"Sagunto 1","x":9,"v":179},{"s":"Sagunto 1","x":10,"v":177},{"s":"Sagunto 1","x":11,"v":177},{"s":"Sagunto 1","x":12,"v":177},{"s":"Sagunto 1","x":13,"v":97},{"s":"Sagunto 1","x":14,"v":0},
      {"s":"Sagunto 2","x":1,"v":166},{"s":"Sagunto 2","x":2,"v":166},{"s":"Sagunto 2","x":3,"v":166},{"s":"Sagunto 2","x":4,"v":166},{"s":"Sagunto 2","x":5,"v":166},{"s":"Sagunto 2","x":6,"v":166},{"s":"Sagunto 2","x":7,"v":166},{"s":"Sagunto 2","x":8,"v":166},{"s":"Sagunto 2","x":9,"v":165},{"s":"Sagunto 2","x":10,"v":0},{"s":"Sagunto 2","x":11,"v":0},{"s":"Sagunto 2","x":12,"v":0},{"s":"Sagunto 2","x":13,"v":0},{"s":"Sagunto 2","x":14,"v":0},
      {"s":"Sagunto 3","x":1,"v":0},{"s":"Sagunto 3","x":2,"v":0},{"s":"Sagunto 3","x":3,"v":0},{"s":"Sagunto 3","x":4,"v":0},{"s":"Sagunto 3","x":5,"v":0},{"s":"Sagunto 3","x":6,"v":0},{"s":"Sagunto 3","x":7,"v":0},{"s":"Sagunto 3","x":8,"v":0},{"s":"Sagunto 3","x":9,"v":0},{"s":"Sagunto 3","x":10,"v":0},{"s":"Sagunto 3","x":11,"v":0},{"s":"Sagunto 3","x":12,"v":0},{"s":"Sagunto 3","x":13,"v":0},{"s":"Sagunto 3","x":14,"v":0},
      {"s":"San Roque 1","x":1,"v":125},{"s":"San Roque 1","x":2,"v":125},{"s":"San Roque 1","x":3,"v":125},{"s":"San Roque 1","x":4,"v":125},{"s":"San Roque 1","x":5,"v":125},{"s":"San Roque 1","x":6,"v":125},{"s":"San Roque 1","x":7,"v":125},{"s":"San Roque 1","x":8,"v":125},{"s":"San Roque 1","x":9,"v":125},{"s":"San Roque 1","x":10,"v":0},{"s":"San Roque 1","x":11,"v":0},{"s":"San Roque 1","x":12,"v":0},{"s":"San Roque 1","x":13,"v":0},{"s":"San Roque 1","x":14,"v":0},
      {"s":"San Roque 2","x":1,"v":176},{"s":"San Roque 2","x":2,"v":176},{"s":"San Roque 2","x":3,"v":176},{"s":"San Roque 2","x":4,"v":176},{"s":"San Roque 2","x":5,"v":176},{"s":"San Roque 2","x":6,"v":176},{"s":"San Roque 2","x":7,"v":176},{"s":"San Roque 2","x":8,"v":176},{"s":"San Roque 2","x":9,"v":175},{"s":"San Roque 2","x":10,"v":46},{"s":"San Roque 2","x":11,"v":0},{"s":"San Roque 2","x":12,"v":0},{"s":"San Roque 2","x":13,"v":0},{"s":"San Roque 2","x":14,"v":0},
      {"s":"Santurce","x":1,"v":148},{"s":"Santurce","x":2,"v":148},{"s":"Santurce","x":3,"v":148},{"s":"Santurce","x":4,"v":150},{"s":"Santurce","x":5,"v":150},{"s":"Santurce","x":6,"v":152},{"s":"Santurce","x":7,"v":152},{"s":"Santurce","x":8,"v":152},{"s":"Santurce","x":9,"v":148},{"s":"Santurce","x":10,"v":10},{"s":"Santurce","x":11,"v":0},{"s":"Santurce","x":12,"v":0},{"s":"Santurce","x":13,"v":0},{"s":"Santurce","x":14,"v":0},
      {"s":"Soto de Ribera 4","x":1,"v":243},{"s":"Soto de Ribera 4","x":2,"v":230},{"s":"Soto de Ribera 4","x":3,"v":220},{"s":"Soto de Ribera 4","x":4,"v":207},{"s":"Soto de Ribera 4","x":5,"v":213},{"s":"Soto de Ribera 4","x":6,"v":211},{"s":"Soto de Ribera 4","x":7,"v":226},{"s":"Soto de Ribera 4","x":8,"v":211},{"s":"Soto de Ribera 4","x":9,"v":143},{"s":"Soto de Ribera 4","x":10,"v":0},{"s":"Soto de Ribera 4","x":11,"v":0},{"s":"Soto de Ribera 4","x":12,"v":0},{"s":"Soto de Ribera 4","x":13,"v":0},{"s":"Soto de Ribera 4","x":14,"v":0},
      {"s":"Soto de Ribera 5","x":1,"v":178},{"s":"Soto de Ribera 5","x":2,"v":178},{"s":"Soto de Ribera 5","x":3,"v":180},{"s":"Soto de Ribera 5","x":4,"v":182},{"s":"Soto de Ribera 5","x":5,"v":188},{"s":"Soto de Ribera 5","x":6,"v":190},{"s":"Soto de Ribera 5","x":7,"v":190},{"s":"Soto de Ribera 5","x":8,"v":190},{"s":"Soto de Ribera 5","x":9,"v":182},{"s":"Soto de Ribera 5","x":10,"v":45},{"s":"Soto de Ribera 5","x":11,"v":0},{"s":"Soto de Ribera 5","x":12,"v":0},{"s":"Soto de Ribera 5","x":13,"v":0},{"s":"Soto de Ribera 5","x":14,"v":0},
      {"s":"Tarragona","x":1,"v":0},{"s":"Tarragona","x":2,"v":0},{"s":"Tarragona","x":3,"v":0},{"s":"Tarragona","x":4,"v":0},{"s":"Tarragona","x":5,"v":0},{"s":"Tarragona","x":6,"v":0},{"s":"Tarragona","x":7,"v":0},{"s":"Tarragona","x":8,"v":0},{"s":"Tarragona","x":9,"v":0},{"s":"Tarragona","x":10,"v":0},{"s":"Tarragona","x":11,"v":0},{"s":"Tarragona","x":12,"v":0},{"s":"Tarragona","x":13,"v":0},{"s":"Tarragona","x":14,"v":0}
    ]
  },
  "mark": {"type": "line", "strokeWidth": 2.25, "strokeJoin": "round"},
  "encoding": {
    "x": {
      "field": "x",
      "type": "ordinal",
      "scale": {"type": "point", "padding": 0.5},
      "axis": {
        "title": null,
        "labelAngle": 0,
        "ticks": false,
        "tickSize": 0,
        "labelPadding": 14,
        "labelFontSize": 15,
        "labelColor": "#595959",
        "domainColor": "#D9D9D9",
        "grid": false
      }
    },
    "y": {
      "field": "v",
      "type": "quantitative",
      "scale": {"domain": [0, 300]},
      "axis": {
        "title": null,
        "values": [0, 50, 100, 150, 200, 250, 300],
        "domain": false,
        "ticks": false,
        "tickSize": 0,
        "labelPadding": 7,
        "labelFontSize": 13,
        "labelColor": "#595959",
        "gridColor": "#D9D9D9",
        "gridWidth": 1
      }
    },
    "color": {
      "field": "s",
      "type": "nominal",
      "scale": {
        "domain": ["Aceca 3","Aceca 4","Algeciras 3 1","Algeciras 3 2","Algeciras 3 3","Amorebieta 1","Amorebieta 2","Amorebieta 3","Arcos de la Frontera 1","Arcos de la Frontera 2","Arcos de la Frontera 3 1","Arcos de la Frontera 3 2","Arcos de la Frontera 3 3","Arrubal 1","Arrubal 2","Bahía de Bizkaia 1","Bahía de Bizkaia 2","Bahía de Bizkaia 3","Besós 3","Besós 4","Besós 5 1","Besós 5 2","Besós 5 3","Campo de Gibraltar 1","Campo de Gibraltar 2","Cartagena 1","Cartagena 2","Cartagena 3","Castejón 1","Castejón 2","Castejón 3","Castellón 3 1","Castellón 3 2","Castellón 3 3","Castellón 4 1","Castellón 4 2","Castellón 4 3","Castelnou 1","Castelnou 2","Castelnou 3","Cristobal Colón 4","El Fangal 1","El Fangal 2","El Fangal 3","Escatrón 3 1","Escatrón 3 2","Escatrón 3 3","Escombreras Iberdrola 1","Escombreras Iberdrola 2","Escombreras Iberdrola 3","Málaga 1","Palos 1","Palos 2","Palos 3","Plana del Vent 1","Plana del Vent 2","Puentes Garcia Rodriguez 5 1","Puentes Garcia Rodriguez 5 2","Puentes Garcia Rodriguez 5 3","Puerto De Barcelona 1","Puerto De Barcelona 2","Sabón 3","Sagunto 1","Sagunto 2","Sagunto 3","San Roque 1","San Roque 2","Santurce","Soto de Ribera 4","Soto de Ribera 5","Tarragona"],
        "range": ["#4F81BD","#C0504D","#9BBB59","#8064A2","#4BACC6","#F79646",
                  "#2C4D75","#772C2A","#5F7530","#4D3B62","#276A7C","#B65708",
                  "#729ACA","#CD7371","#AFC97A","#9983B5","#6FBDD1","#F9AB6B",
                  "#3A6190","#943C39","#758E43","#5F4B79","#318399","#E46C0A",
                  "#A7C0DE","#E0A7A6","#CDDDAC","#BFB1D0","#A5D5E2","#FBCAA2",
                  "#1B3350","#4F1E1C","#3F4E20","#33283F","#1A4653","#7A3B05",
                  "#7094C6","#D07E7C","#B5CC86","#A08FBC","#7DC4D6","#F9B27A",
                  "#2A4A6F","#722A28","#5B7030","#4A3A60","#26667A","#AF5508",
                  "#B9CDE5","#E6B9B8","#D7E4BD","#CCC1DA","#B7DEE8","#FCD5B5",
                  "#4A7EBB","#BE4B48","#98B954","#7D60A0","#46AAC5","#F69240",
                  "#203A5E","#5E2221","#4F6228","#2F2740","#1F5565","#8F4509",
                  "#5D8CC6","#C8726F","#A9C471","#8B76A8","#5EB9CF"]
      },
      "legend": {
        "title": null,
        "orient": "none",
        "direction": "horizontal",
        "legendX": 50,
        "legendY": 195,
        "columns": 6,
        "gridAlign": "each",
        "columnPadding": 8,
        "rowPadding": 4.7,
        "padding": 0,
        "symbolLimit": 100,
        "symbolType": "stroke",
        "symbolSize": 420,
        "symbolStrokeWidth": 2.5,
        "labelOffset": 3,
        "labelFont": "Liberation Sans",
        "labelFontSize": 10.5,
        "labelColor": "#595959",
        "labelLimit": 220
      }
    }
  },
  "config": {
    "view": {"stroke": null},
    "font": "Liberation Sans",
    "axis": {"labelFont": "Liberation Sans"}
  }
}
